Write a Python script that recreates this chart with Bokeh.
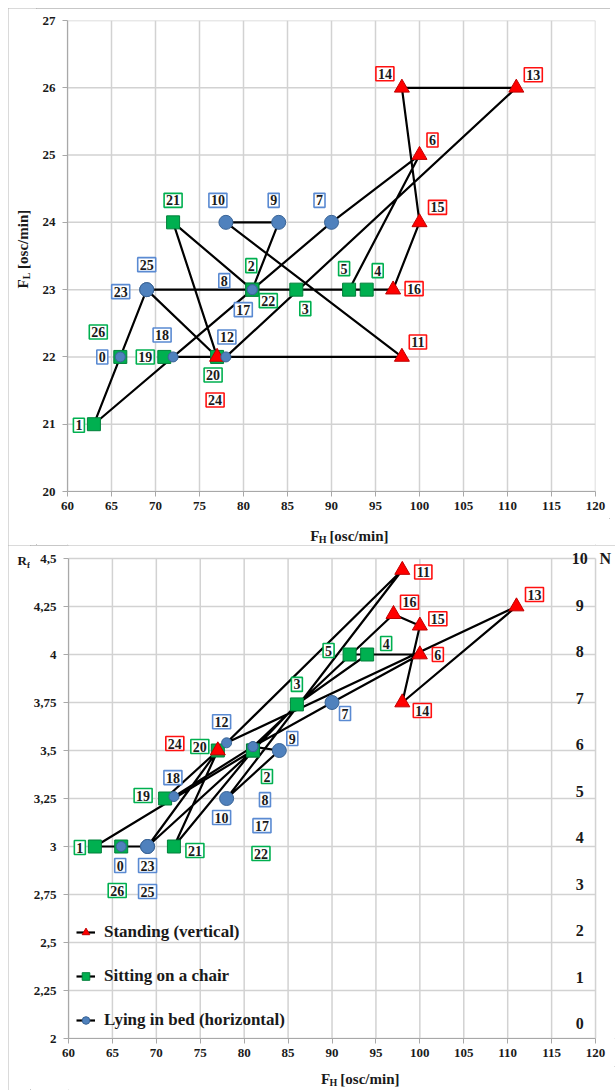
import math
from bokeh.plotting import figure
from bokeh.models import (ColumnDataSource, FixedTicker, LabelSet, Legend,
                          LegendItem, Range1d)
from bokeh.layouts import column, row
from bokeh.embed import file_html
from bokeh.resources import INLINE
from bokeh.core.properties import value

# ---------------- data ----------------
point_ids = list(range(27))
posture = ["lying", "sitting", "sitting", "sitting", "sitting", "sitting", "standing",
           "lying", "lying", "lying", "lying", "standing", "lying", "standing",
           "standing", "standing", "standing", "lying", "lying", "sitting", "sitting",
           "sitting", "sitting", "lying", "standing", "lying", "sitting"]
f_h = [66, 63, 81, 86, 94, 92, 100, 90, 81, 84, 78, 98, 78, 111, 98, 100, 97, 81, 72,
       71, 77, 72, 81, 69, 77, 69, 66]
f_l = [22, 21, 23, 23, 23, 23, 25, 24, 23, 24, 24, 22, 22, 26, 26, 24, 23, 23, 22, 22,
       22, 24, 23, 23, 22, 23, 22]
r_f = [3, 3, 3.5, 3.74, 4, 4, 4, 3.75, 3.52, 3.5, 3.25, 4.44, 3.54, 4.25, 3.75, 4.15,
       4.21, 3.52, 3.26, 3.25, 3.5, 3, 3.5, 3, 3.5, 3, 3]

x_ticks = [60, 65, 70, 75, 80, 85, 90, 95, 100, 105, 110, 115, 120]
fl_ticks = [20, 21, 22, 23, 24, 25, 26, 27]
rf_ticks = [2, 2.25, 2.5, 2.75, 3, 3.25, 3.5, 3.75, 4, 4.25, 4.5]
rf_tick_labels = ["2", "2,25", "2,5", "2,75", "3", "3,25", "3,5", "3,75", "4", "4,25", "4,5"]
n_ticks = [0, 1, 2, 3, 4, 5, 6, 7, 8, 9, 10]
postures = ["standing", "sitting", "lying"]
legend_labels = ["Standing (vertical)", "Sitting on a chair", "Lying in bed (horizontal)"]

# ---------------- styles / label placement (screen px) ----------------
FONT = "Liberation Serif"
TXT = "#1a1a1a"
small_circle_ids = [0, 8, 12, 17, 18]
style = {
    "standing": dict(marker="triangle", fill="#ff0000", line="#c00000", size=15, box="#ff1010"),
    "sitting": dict(marker="square", fill="#00b050", line="#00803a", size=13, box="#00b050"),
    "lying": dict(marker="circle", fill="#4f81bd", line="#3a6496", size=14, box="#5a8ad2"),
}
top_dx = [-18, -15, -1, 9, 11, -5, 13, -12, -28, -5, -8, 16, 1, 17, -17, 18, 21, -9, -11,
          -19, -4, 0, 16, -26, -2, 0, -22]
top_dy = [0, 1, -24, 19, -19, -21, -15, -22, -9, -22, -22, -15, -20, -13, -14, -15, -1, 20,
          -22, 0, 18, -22, 11, 2, 43, -25, -25]
bot_dx = [-1, -15, 14, 0, 19, -21, 18, 13, 12, 13, -5, 21, -5, 18, 20, 18, 16, 9, -1, -22,
          -18, 21, 8, 0, -43, 0, -4]
bot_dy = [19, 1, 26, -20, -11, -4, 0, 11, 53, -12, 19, 2, -21, -12, 8, -7, -12, 79, -19, -3,
          -4, 4, 103, 19, -7, 45, 44]

EM = {"F": 0.611, "H": 0.778, "L": 0.667, "R": 0.722, "f": 0.333, " ": 0.25}
BORDER = {"outline": "1px solid #b4b4b4", "outline-offset": "-1px"}


def strip(width, height, x0, x1, y_top, y_bot):
    """Blank canvas whose data units are page pixels (y downwards), for outside texts."""
    s = figure(width=width, height=height, x_range=Range1d(x0, x1),
               y_range=Range1d(y_bot, y_top), output_backend="svg", toolbar_location=None,
               x_axis_type=None, y_axis_type=None, min_border=0)
    s.grid.visible = False
    s.outline_line_color = None
    s.background_fill_color = "white"
    s.border_fill_color = "white"
    return s


def rich_label(s, x, y, parts, angle=0.0):
    """parts: (text, font px, is_subscript); laid out along the reading direction."""
    pos = 0.0
    for txt, fs, is_sub in parts:
        lead = len(txt) - len(txt.lstrip(" "))
        pos += lead * EM[" "] * fs
        txt = txt.lstrip(" ")
        drop = 4 if is_sub else 0
        if angle == 0:
            px, py = x + pos, y + drop
        else:
            px, py = x + drop, y - pos
        s.text(x=[px], y=[py], text=[txt], angle=angle, text_font=value(FONT),
               text_font_style="bold", text_font_size=f"{fs}px", text_color=TXT,
               text_align="left", text_baseline="middle")
        pos += sum(EM.get(c, 0.55) for c in txt) * fs


def make_main(width, height, x_end, y0, y1, y_end, left, right, top, bottom, y_ticks):
    p = figure(width=width, height=height, x_range=Range1d(60, x_end),
               y_range=Range1d(y0, y_end), output_backend="svg", toolbar_location=None,
               min_border_left=left, min_border_right=right, min_border_top=top,
               min_border_bottom=bottom)
    p.outline_line_color = None
    p.background_fill_color = "white"
    p.border_fill_color = "white"
    p.grid.visible = False
    # grid lines restricted to the axes' extent
    p.segment(x0=x_ticks, y0=[y0] * len(x_ticks), x1=x_ticks, y1=[y1] * len(x_ticks),
              line_color="#d2d2d2", line_width=1.5)
    p.segment(x0=[60] * len(y_ticks), y0=y_ticks, x1=[120] * len(y_ticks), y1=y_ticks,
              line_color="#d2d2d2", line_width=1.5)
    for ax in (p.xaxis, p.yaxis):
        ax.axis_line_color = "#a8a8a8"
        ax.axis_line_width = 1.2
        ax.major_tick_line_color = "#a8a8a8"
        ax.major_tick_in = 0
        ax.major_tick_out = 5
        ax.minor_tick_line_color = None
        ax.major_label_text_font = FONT
        ax.major_label_text_font_style = "bold"
        ax.major_label_text_font_size = "13px"
        ax.major_label_text_color = TXT
    p.xaxis.major_label_standoff = 5
    p.yaxis.major_label_standoff = 7
    p.xaxis.ticker = FixedTicker(ticks=x_ticks)
    p.yaxis.ticker = FixedTicker(ticks=y_ticks)
    p.xaxis.bounds = (60, 120)
    p.yaxis.bounds = (y0, y1)
    return p


def draw_points(p, ys, dx, dy, with_legend):
    line_r = p.line(f_h, ys, line_color="black", line_width=2.2)
    renderers = {}
    for name in ["sitting", "standing", "lying"]:
        st = style[name]
        idx = [i for i in point_ids if posture[i] == name]
        sizes = [10 if (i in small_circle_ids) else st["size"] for i in idx]
        src = ColumnDataSource(dict(x=[f_h[i] for i in idx], y=[ys[i] for i in idx], s=sizes))
        renderers[name] = (p.scatter("x", "y", source=src, marker=st["marker"], size="s",
                                     fill_color=st["fill"], line_color=st["line"],
                                     line_width=1), sizes.index(st["size"]))
    lab = ColumnDataSource(dict(x=f_h, y=ys, t=[str(i) for i in point_ids], dx=dx, dy=dy,
                                bc=[style[k]["box"] for k in posture]))
    p.text(x="x", y="y", text="t", x_offset="dx", y_offset="dy", source=lab,
           text_font=value(FONT), text_font_style="bold", text_font_size="14px",
           text_color=TXT, text_align="center", text_baseline="middle",
           background_fill_color="white", border_line_color="bc", border_line_width=1.6,
           padding=2)
    if with_legend:
        items = []
        for name, lbl in zip(postures, legend_labels):
            r, ix = renderers[name]
            items.append(LegendItem(label=lbl, renderers=[line_r, r], index=ix))
        leg = Legend(items=items, location="bottom_left", margin=8, padding=0, spacing=24,
                     glyph_width=19, glyph_height=20, label_height=20, label_standoff=9,
                     label_text_font=FONT, label_text_font_style="bold",
                     label_text_font_size="17px", label_text_color=TXT,
                     background_fill_alpha=0, border_line_alpha=0)
        p.add_layout(leg)


# ---------------- top panel (page x 8..610, y 8..545) ----------------
top = make_main(574, 510, 120, 20, 27, 27, 31, 15, 12, 27, fl_ticks)
draw_points(top, f_l, top_dx, top_dy, False)
top_left = strip(28, 537, 8, 36, 8, 545)
rich_label(top_left, 22, 288, [("F", 15, False), ("L", 10, True), (" [osc/min]", 15, False)],
           angle=math.pi / 2)
top_bottom = strip(574, 27, 36, 610, 518, 545)
rich_label(top_bottom, 300, 535, [("F", 15, False), ("H", 10, True), (" [osc/min]", 15, False)])
top_block = row(top_left, column(top, top_bottom, spacing=0), spacing=0)
top_block.margin = (8, 5, 0, 8)
top_block.styles = BORDER

# ---------------- bottom panel (page x 8..615, y 545..1090) ----------------
px_per_rf = (1038 - 558) / 2.5
bot = make_main(585, 521, 120 + 20 / 8.8, 2, 4.5, 4.5 + 13 / px_per_rf, 37, 0, 0, 28,
                rf_ticks)
bot.yaxis.major_label_overrides = {t: s for t, s in zip(rf_ticks, rf_tick_labels)}
bot.extra_y_ranges = {"n": Range1d(-15 / 46.5, 10 + 13 / 46.5)}
draw_points(bot, r_f, bot_dx, bot_dy, True)
n_src = ColumnDataSource(dict(x=[118.2] * len(n_ticks), y=n_ticks, t=[str(n) for n in n_ticks]))
bot.add_layout(LabelSet(x="x", y="y", text="t", source=n_src, y_range_name="n",
                        text_font=value(FONT), text_font_style="bold", text_font_size="16px",
                        text_color=TXT, text_align="center", text_baseline="middle"))
bot.text(x=[120.45], y=[10], text=["N"], y_range_name="n", text_font=value(FONT),
         text_font_style="bold", text_font_size="16px", text_color=TXT,
         text_align="left", text_baseline="middle")
bot_left = strip(22, 545, 8, 30, 545, 1090)
rich_label(bot_left, 17, 560, [("R", 13, False), ("f", 9, True)])
bot_bottom = strip(585, 24, 30, 615, 1066, 1090)
rich_label(bot_bottom, 300, 1078, [("F", 15, False), ("H", 10, True), (" [osc/min]", 15, False)])
bot_block = row(bot_left, column(bot, bot_bottom, spacing=0), spacing=0)
bot_block.margin = (0, 0, 0, 8)
bot_block.styles = BORDER

layout = column(top_block, bot_block, spacing=0)
open("out.html", "w").write(file_html(layout, INLINE))
